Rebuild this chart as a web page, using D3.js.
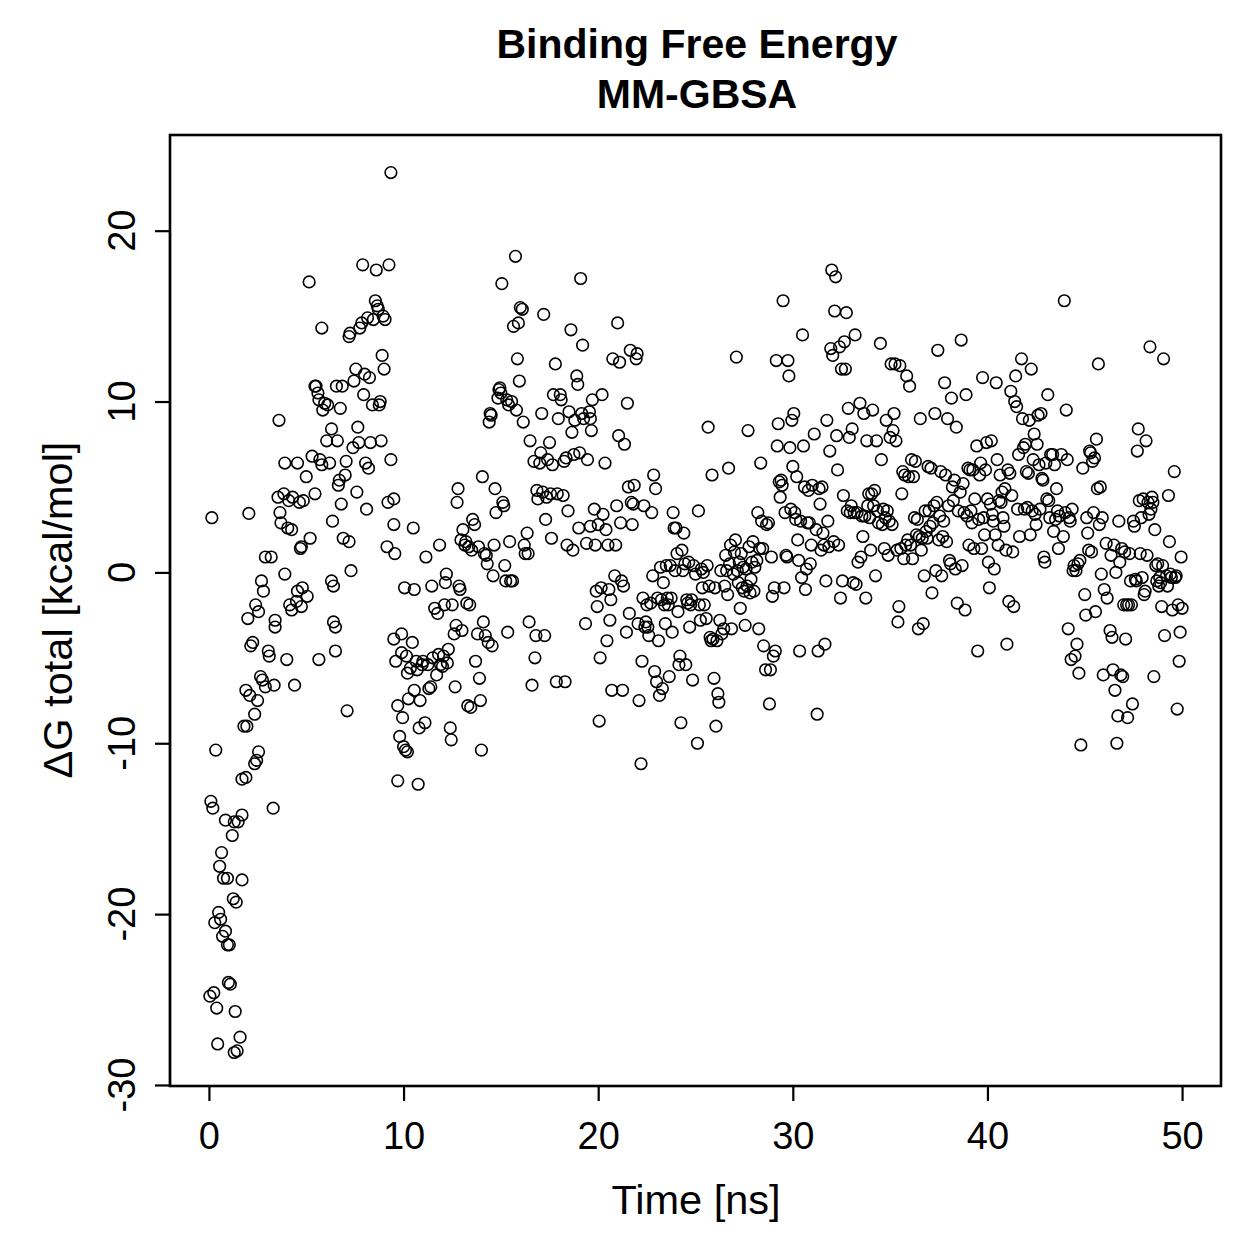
<!DOCTYPE html>
<html><head><meta charset="utf-8">
<script src="https://cdn.jsdelivr.net/npm/d3@7"></script>
<style>body{margin:0;background:#fff} svg{display:block}</style>
</head><body>
<svg id="c" width="1259" height="1259"></svg>
<script>
const titleLines = ["Binding Free Energy", "MM-GBSA"];
const xLabel = "Time [ns]";
const yLabel = "ΔG total [kcal/mol]";
const xTicks = [0, 10, 20, 30, 40, 50];
const yTicks = [-30, -20, -10, 0, 10, 20];

const time = [
0.15,0.1,0.2,0.35,0.05,0.25,0.4,0.45,0.3,0.5,0.55,0.65,0.75,0.6,0.7,0.85,0.95,1.05,0.85,0.95,1.0,1.1,1.2,1.3,1.5,1.7,1.25,1.4,1.35,1.3,1.45,1.6,1.7,1.7,1.9,1.8,1.95,1.9,2.1,2.0,2.05,2.15,2.25,2.35,2.45,2.55,2.35,2.5,2.4,2.55,
2.7,2.8,2.65,2.75,2.9,3.2,2.9,3.1,3.05,3.3,3.35,3.4,3.4,3.6,3.55,3.65,3.7,3.9,3.85,3.9,4.0,4.05,4.25,4.15,4.25,4.3,4.1,4.4,4.5,4.55,4.75,4.75,4.8,4.65,4.85,4.55,4.7,
5.0,5.05,5.15,5.2,5.3,5.45,5.45,5.5,5.6,5.65,5.65,5.8,5.7,5.8,5.85,5.95,6.05,6.1,6.2,6.3,6.4,6.4,6.5,6.3,6.35,6.5,6.55,6.6,6.65,6.7,6.75,6.8,6.85,6.9,7.0,7.05,7.1,7.2,7.2,7.25,7.3,7.4,7.45,7.55,7.6,7.65,7.7,7.75,7.85,7.9,7.95,8.0,8.05,8.1,8.15,8.2,8.25,8.3,8.4,8.45,8.55,8.6,8.65,8.7,8.75,8.8,8.85,8.9,8.95,9.0,9.05,9.15,9.2,9.25,9.35,9.35,9.5,9.55,9.5,9.5,9.6,9.7,9.7,9.8,9.9,9.9,9.95,
10.0,10.05,10.1,10.2,10.15,10.2,10.25,10.35,10.45,10.5,10.55,10.55,10.65,10.7,10.75,10.8,10.85,10.95,11.0,11.1,11.15,11.25,11.3,11.4,11.45,11.5,11.6,11.7,11.75,11.8,11.85,11.9,12.0,12.05,12.1,12.15,12.2,12.25,12.3,12.4,12.45,12.5,12.6,12.65,12.7,12.75,12.8,12.85,12.9,12.95,13.0,13.05,13.15,13.2,13.25,13.3,13.35,13.4,13.45,13.5,13.55,13.65,13.7,13.8,13.85,13.9,13.95,14.0,14.05,14.1,14.15,14.2,14.25,14.3,14.35,14.4,14.45,14.5,14.55,14.6,14.65,14.7,14.75,14.85,14.9,14.95,
15.0,15.05,15.1,15.15,15.2,15.25,15.3,15.35,15.4,15.45,15.5,15.55,15.6,15.65,15.75,15.8,15.85,15.9,15.95,16.0,16.1,16.15,16.2,16.25,16.35,16.4,16.45,16.5,16.6,16.7,16.75,16.8,16.85,16.9,17.0,17.05,17.1,17.15,17.2,17.25,17.3,17.35,17.4,17.5,17.55,17.6,17.65,17.7,17.8,17.85,17.9,17.95,18.05,18.1,18.2,18.25,18.3,18.35,18.4,18.45,18.5,18.6,18.65,18.7,18.75,18.8,18.9,18.95,19.0,19.05,19.1,19.15,19.2,19.25,19.35,19.4,19.45,19.55,19.6,19.6,19.65,19.7,19.8,19.85,19.9,19.95,
20.0,20.05,20.1,20.15,20.2,20.25,20.35,20.4,20.45,20.5,20.55,20.6,20.65,20.7,20.75,20.85,20.9,20.95,21.0,21.05,21.1,21.15,21.2,21.25,21.3,21.35,21.45,21.5,21.55,21.6,21.65,21.7,21.75,21.8,21.85,21.95,22.0,22.05,22.1,22.2,22.25,22.3,22.35,22.4,22.45,22.5,22.55,22.6,22.7,22.75,22.8,22.85,22.9,22.95,23.0,23.05,23.1,23.15,23.2,23.25,23.3,23.35,23.4,23.45,23.5,23.55,23.6,23.65,23.7,23.75,23.8,23.85,23.9,23.95,24.0,24.05,24.1,24.15,24.2,24.25,24.3,24.35,24.4,24.45,24.5,24.55,24.6,24.65,24.7,24.75,24.8,24.85,24.9,
25.0,25.1,25.15,25.2,25.25,25.3,25.35,25.4,25.45,25.55,25.6,25.65,25.7,25.75,25.8,25.85,25.9,25.95,26.0,26.05,26.1,26.15,26.2,26.25,26.3,26.35,26.45,26.5,26.55,26.6,26.65,26.7,26.75,26.8,26.85,26.95,27.0,27.05,27.1,27.15,27.2,27.25,27.3,27.35,27.4,27.45,27.5,27.55,27.6,27.65,27.7,27.75,27.8,27.85,27.9,27.95,28.0,28.05,28.15,28.2,28.25,28.3,28.35,28.4,28.45,28.5,28.6,28.65,28.75,28.8,28.85,28.9,28.95,29.0,29.05,29.1,29.15,29.2,29.25,29.3,29.35,29.4,29.45,29.5,29.55,29.6,29.65,29.7,29.75,29.8,29.85,29.9,29.95,
30.0,30.05,30.1,30.15,30.2,30.25,30.3,30.35,30.4,30.45,30.5,30.55,30.6,30.65,30.7,30.75,30.8,30.85,30.9,30.95,31.0,31.1,31.2,31.25,31.3,31.35,31.4,31.45,31.5,31.55,31.6,31.65,31.7,31.75,31.8,31.85,31.9,31.95,32.0,32.05,32.1,32.15,32.2,32.25,32.3,32.35,32.4,32.45,32.5,32.55,32.6,32.65,32.7,32.75,32.8,32.85,32.9,32.95,33.0,33.05,33.1,33.15,33.2,33.25,33.3,33.35,33.45,33.5,33.55,33.6,33.65,33.7,33.75,33.8,33.85,33.9,33.95,34.0,34.05,34.1,34.15,34.2,34.25,34.3,34.35,34.4,34.5,34.55,34.6,34.65,34.7,34.75,34.8,34.85,34.9,34.95,
35.0,35.05,35.1,35.15,35.2,35.25,35.3,35.35,35.4,35.45,35.5,35.55,35.6,35.65,35.7,35.75,35.8,35.85,35.9,35.95,36.0,36.05,36.1,36.15,36.2,36.25,36.3,36.35,36.4,36.45,36.5,36.55,36.6,36.65,36.7,36.75,36.8,36.85,36.9,36.95,37.0,37.05,37.1,37.15,37.2,37.25,37.3,37.35,37.4,37.45,37.5,37.55,37.6,37.65,37.7,37.75,37.8,37.85,37.9,37.95,38.0,38.05,38.1,38.15,38.2,38.25,38.3,38.35,38.4,38.45,38.5,38.6,38.65,38.7,38.75,38.8,38.85,38.9,38.95,39.0,39.05,39.1,39.15,39.2,39.25,39.3,39.35,39.45,39.5,39.55,39.6,39.65,39.7,39.75,39.8,39.85,39.9,39.95,
40.0,40.05,40.1,40.15,40.2,40.25,40.3,40.35,40.4,40.45,40.5,40.55,40.6,40.65,40.7,40.75,40.8,40.85,40.9,40.95,41.0,41.05,41.1,41.15,41.2,41.25,41.3,41.35,41.4,41.45,41.5,41.55,41.6,41.65,41.75,41.8,41.85,41.9,41.95,42.0,42.05,42.1,42.15,42.2,42.25,42.3,42.35,42.4,42.45,42.5,42.55,42.6,42.65,42.7,42.75,42.8,42.85,42.9,42.95,43.0,43.05,43.1,43.15,43.2,43.25,43.35,43.4,43.45,43.5,43.55,43.6,43.65,43.7,43.8,43.9,43.95,44.0,44.05,44.1,44.15,44.2,44.25,44.3,44.35,44.4,44.45,44.5,44.55,44.6,44.65,44.7,44.75,44.8,44.9,
45.0,45.05,45.1,45.15,45.2,45.25,45.3,45.35,45.4,45.45,45.5,45.55,45.6,45.65,45.7,45.75,45.8,45.85,45.9,45.95,46.0,46.1,46.15,46.3,46.35,46.4,46.45,46.5,46.55,46.6,46.65,46.7,46.75,46.8,46.85,46.9,46.95,47.0,47.05,47.1,47.15,47.2,47.25,47.3,47.35,47.4,47.45,47.5,47.55,47.6,47.65,47.7,47.75,47.8,47.85,47.9,47.95,48.0,48.05,48.1,48.15,48.2,48.25,48.3,48.35,48.4,48.45,48.5,48.55,48.6,48.65,48.7,48.75,48.8,48.85,48.9,48.95,49.0,49.05,49.1,49.2,49.25,49.3,49.35,49.4,49.45,49.5,49.6,49.65,49.7,49.75,49.8,49.85,49.9,49.95,50.0
];

const deltaG = [
3.2,-13.4,-13.8,-10.4,-24.8,-24.6,-25.5,-27.6,-20.5,-19.9,-17.2,-16.4,-17.9,-20.3,-21.3,-21.0,-21.8,-21.8,-14.5,-17.9,-24.0,-24.1,-15.4,-14.6,-14.6,-14.2,-19.1,-19.3,-25.7,-28.1,-28.0,-27.2,-18.0,-12.1,-12.0,-9.0,-9.0,-6.9,-7.2,-2.7,3.45,-4.3,-4.1,-11.2,-11.0,-10.5,-8.3,-7.5,-1.9,-2.3,
-0.5,-1.1,-6.1,-6.3,0.9,0.9,-6.7,-4.9,-4.6,-13.8,-6.6,-3.2,-2.8,8.9,4.4,3.5,2.9,6.4,4.6,-0.1,-5.1,2.6,2.5,-1.9,-2.2,4.4,4.2,-6.6,-1.7,-1.1,1.5,-2.0,-0.9,4.1,4.2,6.4,1.4,
5.6,-1.4,17.0,2.0,6.8,4.6,10.9,10.9,10.5,10.1,-5.1,14.3,6.6,6.3,9.5,9.9,7.7,9.8,6.4,-0.5,-0.8,-2.9,-3.2,8.4,3.0,-4.6,10.9,7.7,5.1,5.4,9.6,4.0,10.9,2.0,5.7,6.5,-8.1,1.8,13.8,14.0,0.1,7.3,11.2,11.9,4.7,8.5,7.6,14.3,14.6,18.0,10.4,11.6,6.4,3.7,14.9,6.1,11.4,7.6,9.8,14.8,15.9,17.7,15.6,15.4,9.8,10.0,7.7,12.7,15.0,11.9,14.8,1.5,4.1,18.0,23.4,6.6,4.3,1.1,2.8,-3.9,-5.2,-7.8,-12.2,-9.6,-3.6,-4.7,-8.5,
-10.2,-0.9,-10.4,-10.5,-4.9,-5.9,-7.4,-5.6,-4.1,2.6,-6.9,-1.0,-5.2,-5.7,-12.4,-9.1,-7.5,-5.4,-5.2,-8.8,0.9,-5.4,-6.8,-6.7,-0.8,-5.0,-2.1,-6.0,-2.4,-4.8,1.6,-5.4,-5.5,-4.9,-1.9,-0.6,-0.1,-5.3,-4.5,-9.1,-9.8,-1.9,-3.6,-6.7,-3.1,4.1,4.9,-0.8,-1.0,1.9,-3.4,2.5,1.6,1.8,-1.8,-7.8,1.5,-1.9,-7.9,1.3,3.1,2.8,-5.2,-3.6,1.5,-6.2,-7.5,-10.4,5.6,-2.9,1.1,-3.7,1.0,0.5,-4.1,8.8,9.3,9.2,-4.3,-0.2,1.6,4.9,3.5,10.2,10.7,10.8,
10.5,16.9,4.1,3.9,0.4,-0.5,10.1,-3.5,9.8,1.8,-0.5,10.0,-0.5,14.4,18.5,9.5,12.5,14.6,11.2,15.5,15.4,8.8,1.6,1.1,2.3,1.1,-2.9,7.7,-6.6,6.5,-5.0,-3.7,4.8,4.3,6.4,7.0,9.3,4.7,15.1,-3.7,3.1,4.4,6.6,7.6,4.6,2.0,6.3,10.4,12.2,-6.4,4.6,9.0,10.4,10.1,4.5,6.5,-6.4,6.7,1.6,3.6,9.4,14.2,8.2,1.3,6.9,8.9,11.5,11.0,2.6,7.0,17.2,9.3,13.3,9.0,-3.0,1.7,6.6,9.4,2.7,9.0,8.3,10.1,3.7,1.6,-1.1,-2.0,
2.8,-8.7,-5.0,-0.9,10.4,3.4,6.4,2.5,-4.0,1.6,-1.0,-2.8,-1.6,-6.9,12.5,-0.2,1.6,3.9,14.6,8.0,12.3,2.9,-0.5,-6.9,-0.8,7.5,-3.5,9.9,5.0,-2.4,13.0,4.1,2.8,4.0,5.1,12.5,12.8,-3.0,-7.5,-11.2,-5.2,-1.5,3.9,-3.2,-2.9,-1.9,-3.2,-3.7,-1.8,3.5,-0.2,5.7,-5.8,4.9,-6.4,-1.5,-4.0,-7.2,0.3,-1.6,-6.8,-0.6,-1.9,-3.0,0.4,-1.5,-1.9,-6.1,0.4,-1.5,-3.5,3.5,2.6,0.1,2.6,1.1,-2.3,-5.4,-4.9,-8.8,1.3,0.1,2.3,0.5,-5.4,-1.6,-1.8,0.6,-3.2,-1.9,-1.6,-6.3,0.4,
-0.1,-10.0,3.6,-1.9,-2.8,0.2,-0.9,0,-1.9,-2.7,0.4,8.5,-0.8,-3.8,-4.0,5.7,-3.9,-6.2,-0.9,-9.0,-4.0,-7.1,-7.6,-2.8,0.1,-3.6,-3.3,-0.8,1.0,0.1,-1.3,6.1,0.5,1.6,-3.3,-0.1,1.2,1.9,12.6,0.1,-0.6,0.6,-2.1,1.1,-0.9,0.3,-1.1,-3.1,0.2,-0.8,8.3,1.5,-1.2,-0.4,0.6,1.8,-1.1,0.3,0.7,3.5,-3.3,1.4,6.4,3.0,1.4,-4.3,-5.7,2.8,2.9,-7.7,-5.7,0.9,-1.4,-4.9,-0.9,-4.6,12.4,7.4,8.7,5.3,4.4,5.4,5.1,15.9,-0.9,3.5,1.0,0.9,12.4,11.5,7.3,3.7,8.9,
6.2,9.3,3.5,3.1,5.6,1.9,0.7,-4.6,3.0,-0.3,13.9,7.4,5.0,-1.0,0.2,2.9,4.8,2.9,0.5,1.6,5.1,8.1,2.5,-8.3,-4.6,4.9,4.0,1.3,5.0,2.3,1.6,-4.2,-0.5,8.9,3.0,1.5,7.1,13.1,17.7,12.7,1.8,15.3,17.3,8.0,6.0,1.6,13.2,-1.5,11.9,-0.5,4.5,13.5,11.9,15.2,3.6,9.6,7.9,3.5,3.9,8.4,-0.6,3.5,13.9,-0.7,3.5,0.6,9.9,0.9,3.3,2.1,9.3,3.3,-1.5,7.7,3.9,4.6,3.2,1.3,4.6,9.5,3.9,4.8,-0.2,7.7,3.6,2.9,13.4,6.6,2.8,3.7,1.4,3.2,8.9,3.6,1.0,3.0,
7.9,12.2,2.8,8.3,9.3,12.2,7.7,1.3,-2.9,-2.0,12.1,1.4,4.6,5.9,0.8,5.7,1.6,11.5,1.9,5.6,10.9,1.6,6.6,0.8,5.6,3.2,6.5,2.2,3.1,-3.3,2.1,9.0,1.3,2.0,-3.0,-0.2,3.6,2.4,2.0,6.2,3.6,2.7,6.1,-1.2,2.9,3.9,9.3,0.1,4.1,13.0,1.9,3.3,5.9,-0.2,2.1,3.0,11.1,5.7,1.8,9.0,3.9,0.7,0.5,10.2,5.0,4.2,5.4,0.2,8.5,-1.8,3.6,4.7,13.6,0.4,5.2,3.5,-2.2,10.4,3.3,6.1,1.6,6.0,3.6,2.9,6.0,1.4,4.3,7.4,-4.6,3.1,5.7,6.4,1.4,11.4,3.2,2.2,6.0,7.6,
4.3,0.6,-0.9,4.0,7.7,3.4,3.0,0.2,2.2,11.1,6.6,1.6,4.2,5.7,4.1,4.7,3.2,2.7,4.9,1.3,-4.2,6.0,-1.7,5.8,10.6,4.5,1.2,-2.0,10.0,11.5,9.7,3.7,6.9,2.1,12.5,9.0,7.3,3.7,7.5,5.9,3.8,5.8,8.9,2.2,11.9,3.6,6.6,8.1,3.4,2.8,7.5,9.2,6.3,3.7,9.3,5.5,5.4,0.9,0.6,6.4,4.3,10.4,4.2,3.2,6.9,6.9,2.4,6.3,3.1,4.9,3.6,1.4,3.3,6.9,2.1,15.9,3.5,9.5,6.6,-3.3,3.2,3.0,-5.1,3.7,0.1,0.4,-4.9,0.1,-4.2,0.5,-5.9,0.7,-10.1,6.1,
-1.3,-2.5,3.2,2.3,1.3,7.1,7.0,1.2,6.5,3.5,6.7,-2.3,7.8,4.9,12.2,2.8,5.0,-0.1,3.2,-6.0,-1.0,1.7,-1.5,-3.4,1.0,-3.8,-5.7,1.6,-6.9,0,-10.0,-8.4,3.0,0.6,-6.0,1.4,-6.1,-1.9,1.2,-3.9,-1.9,-8.5,-1.9,1.1,-0.5,-1.9,-7.7,3.0,2.7,-0.4,-0.5,7.1,8.4,4.2,1.1,3.2,-0.3,4.3,-1.3,-1.1,7.7,1.0,4.1,3.4,13.2,3.7,4.4,4.1,-6.1,2.5,0.4,-0.5,0.5,-0.8,-0.3,-0.6,-2.0,0.4,12.5,-3.7,-0.2,-0.8,4.5,1.8,-0.1,-0.3,-2.2,5.9,-0.3,-0.2,-8.0,-1.9,-5.2,-3.5,0.9,-2.1
];

const FONT = "'Liberation Sans', Arial, Helvetica, sans-serif";
const svg = d3.select('#c');
const x = d3.scaleLinear().domain([-2, 52]).range([170, 1221]);
const y = d3.scaleLinear().domain([-30.06, 25.6]).range([1086, 135]);

const n = Math.min(time.length, deltaG.length);
const pts = d3.range(n).map(i => ({t: time[i], g: deltaG[i]}));

// points
svg.append('g').selectAll('circle').data(pts).join('circle')
  .attr('cx', d => x(d.t)).attr('cy', d => y(d.g)).attr('r', 5.8)
  .attr('fill', 'none').attr('stroke', '#000').attr('stroke-width', 1.6);

// box
svg.append('rect').attr('x', 170).attr('y', 135).attr('width', 1051).attr('height', 951)
  .attr('fill', 'none').attr('stroke', '#000').attr('stroke-width', 2.6);

// x axis
const xa = svg.append('g').attr('transform', 'translate(0,1086)')
  .call(d3.axisBottom(x).tickValues(xTicks).tickSize(15).tickPadding(21).tickSizeOuter(0)
    .tickFormat(d => String(d)));
xa.select('.domain').remove();
xa.selectAll('line').attr('stroke-width', 2.2);
xa.selectAll('text').attr('font-family', FONT).attr('font-size', 38).attr('fill', '#000');
xa.append('line').attr('x1', x(xTicks[0])).attr('x2', x(xTicks[xTicks.length-1]))
  .attr('stroke', '#000').attr('stroke-width', 2.2);

// y axis
const ya = svg.append('g').attr('transform', 'translate(170,0)')
  .call(d3.axisLeft(y).tickValues(yTicks).tickSize(15).tickFormat(() => '').tickSizeOuter(0));
ya.select('.domain').remove();
ya.selectAll('line').attr('stroke-width', 2.2);
ya.append('line').attr('y1', y(yTicks[0])).attr('y2', y(yTicks[yTicks.length-1]))
  .attr('stroke', '#000').attr('stroke-width', 2.2);
svg.append('g').selectAll('text').data(yTicks).join('text')
  .attr('transform', d => `translate(135,${y(d)}) rotate(-90)`)
  .attr('text-anchor', 'middle').attr('font-family', FONT).attr('font-size', 38)
  .text(d => String(d));

// labels
svg.append('text').attr('x', 696).attr('y', 1214).attr('text-anchor', 'middle')
  .attr('font-family', FONT).attr('font-size', 41.5).text(xLabel);
svg.append('text').attr('transform', 'translate(72,610) rotate(-90)').attr('text-anchor', 'middle')
  .attr('font-family', FONT).attr('font-size', 41.5).text(yLabel);

// title
svg.append('g').selectAll('text').data(titleLines).join('text')
  .attr('x', 697).attr('y', (d, i) => 58 + i * 50).attr('text-anchor', 'middle')
  .attr('font-family', FONT).attr('font-weight', 'bold').attr('font-size', 41).text(d => d);
</script>
</body></html>
